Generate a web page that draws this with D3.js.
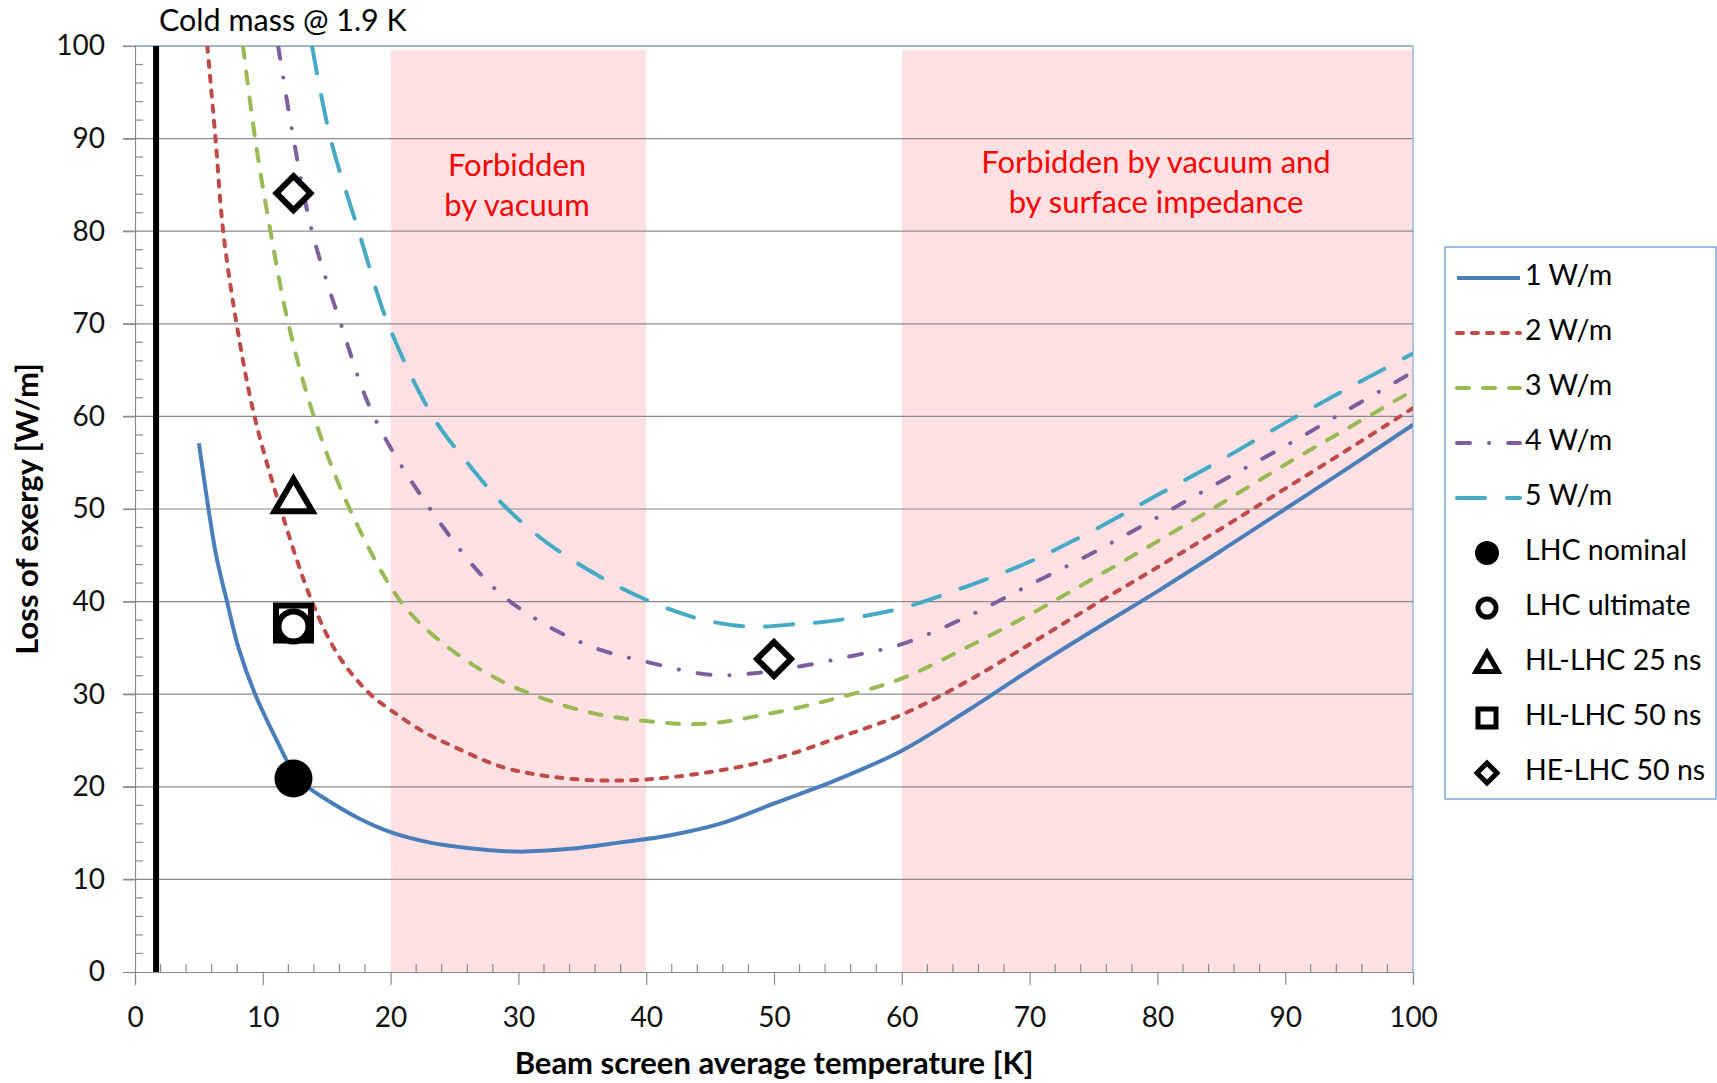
<!DOCTYPE html>
<html>
<head>
<meta charset="utf-8">
<script src="https://cdn.jsdelivr.net/npm/d3@7/dist/d3.min.js"></script>
<style>
  body { margin: 0; background: #fff; }
  svg { display: block; font-family: Lato, "Open Sans", sans-serif; }
</style>
</head>
<body>
<svg></svg>
<script>
// loss of exergy vs beam screen temperature, one curve per heat load

var xTicks = [0, 10, 20, 30, 40, 50, 60, 70, 80, 90, 100];
var yTicks = [0, 10, 20, 30, 40, 50, 60, 70, 80, 90, 100];

// [temperature K, loss W/m]
var load1 = [[5, 57.1], [5.75, 50], [6.35, 45], [7.2, 40], [8.1, 35], [9.4, 30], [11.1, 25], [12.4, 21.6],
  [13.5, 20], [15, 18.6], [17.5, 16.6], [20, 15.1], [23, 14.0], [26, 13.4], [30, 13.0], [34, 13.3],
  [38, 14.0], [42, 14.8], [46, 16.1], [50, 18.2], [55, 20.8], [60, 23.9], [65, 28.1], [70, 32.6],
  [75, 36.9], [80, 41.1], [85, 45.5], [90, 50.0], [95, 54.5], [100, 59.1]];
var load2 = [[5.66, 100], [6.3, 90], [6.9, 80], [7.95, 70], [9.35, 60], [11.4, 50], [13.85, 40], [16, 34],
  [18.4, 30], [20, 28.3], [22.5, 26], [25, 24.3], [28.6, 22.2], [32, 21.2], [36, 20.7], [40, 20.8],
  [45, 21.6], [50, 23.0], [55, 25.3], [60, 27.8], [65, 31.3], [70, 35.4], [75, 39.6], [80, 43.7],
  [85, 47.9], [90, 52.2], [95, 56.5], [100, 60.9]];
var load3 = [[8.45, 100], [9.4, 90], [10.6, 80], [12.0, 70], [14.0, 60], [16.8, 50], [20.8, 40], [24, 35.6],
  [28, 31.9], [32, 29.5], [36, 27.9], [40, 27.1], [44.5, 26.8], [50, 28.0], [55, 29.6], [60, 31.7],
  [65, 35.0], [70, 38.6], [75, 42.5], [80, 46.5], [85, 50.6], [90, 54.8], [95, 58.8], [100, 62.8]];
var load4 = [[11.2, 100], [12.4, 90], [13.85, 80], [16.1, 70], [18.7, 60], [23.1, 50], [28, 41.6], [32, 37.6],
  [36, 35.0], [40, 33.5], [45, 32.1], [48, 32.2], [52, 33.0], [56, 34.1], [60, 35.4], [65, 38.3],
  [70, 41.8], [75, 45.3], [80, 49.1], [85, 53.0], [90, 56.8], [95, 60.8], [100, 64.8]];
var load5 = [[13.85, 100], [15.3, 90], [17.5, 80], [19.8, 70], [23.3, 60], [26, 55], [29, 50.2], [32, 46.6],
  [36, 43.0], [40, 40.2], [44, 38.2], [48, 37.3], [52, 37.6], [55, 38.0], [60, 39.3], [65, 41.6],
  [70, 44.3], [75, 47.7], [80, 51.5], [85, 55.3], [90, 59.3], [95, 63.1], [100, 66.8]];

var seriesNames = ['1 W/m', '2 W/m', '3 W/m', '4 W/m', '5 W/m'];
var seriesData = [load1, load2, load3, load4, load5];

var scenarioNames = ['LHC nominal', 'LHC ultimate', 'HL-LHC 25 ns', 'HL-LHC 50 ns', 'HE-LHC 50 ns'];
// drawn in this order so the ultimate circle sits on top of the 50 ns square
var scenarioKind = [0, 3, 1, 2, 4, 4];
var scenarioT = [12.4, 12.4, 12.4, 12.4, 12.4, 50];
var scenarioLoss = [20.9, 37.7, 37.3, 51.3, 84.1, 33.8];

var coldMassT = 1.65;
var forbiddenBands = [[20, 40], [60, 100]];

document.addEventListener('DOMContentLoaded', function() {

  var width = 1717;
  var height = 1083;
  var svg = d3.select('svg')
                .attr('width', width)
                .attr('height', height);

  var x = d3.scaleLinear().domain([0, 100]).range([135, 1413]);
  var y = d3.scaleLinear().domain([0, 100]).range([972, 46]);

  var colors = ['#4a7ebb', '#be4b48', '#98b954', '#7d5fa0', '#46aac5'];
  var dashes = [null, '6,9', '12,14', '13,19,0.1,19', '28,22'];
  var gridColor = '#8a8a8a';

  // pink zones
  svg.append('g')
    .selectAll('rect')
    .data(forbiddenBands)
    .enter()
    .append('rect')
      .attr('x', d => x(d[0]))
      .attr('width', d => x(d[1]) - x(d[0]))
      .attr('y', y(99.6))
      .attr('height', y(0) - y(99.6))
      .attr('fill', '#ffe1e3');

  // gridlines
  svg.append('g')
    .selectAll('line')
    .data(yTicks.slice(1))
    .enter()
    .append('line')
      .attr('x1', x(0) - 12)
      .attr('x2', x(100))
      .attr('y1', d => y(d))
      .attr('y2', d => y(d))
      .attr('stroke', gridColor)
      .attr('stroke-width', 1.2);

  // plot border (top, right)
  svg.append('path')
    .attr('d', `M${x(0)},${y(100)}H${x(100)}V${y(0)}`)
    .attr('fill', 'none')
    .attr('stroke', '#7fa6d8')
    .attr('stroke-width', 1.2);

  // y axis: major ticks out, minor ticks in
  var yAxis = svg.append('g')
      .attr('transform', `translate(${x(0)},0)`)
      .call(d3.axisLeft(y).tickValues(yTicks).tickSize(12).tickPadding(18).tickFormat(d3.format('d')));
  var yMinor = d3.range(2, 100, 2).filter(d => d % 10 !== 0);
  yAxis.selectAll('.minor')
    .data(yMinor)
    .enter()
    .append('line')
      .attr('class', 'minor')
      .attr('x1', 0).attr('x2', 8)
      .attr('y1', d => y(d)).attr('y2', d => y(d));

  var xAxis = svg.append('g')
      .attr('transform', `translate(0,${y(0)})`)
      .call(d3.axisBottom(x).tickValues(xTicks).tickSize(13).tickPadding(22).tickFormat(d3.format('d')));
  var xMinor = d3.range(2, 100, 2).filter(d => d % 10 !== 0);
  xAxis.selectAll('.minor')
    .data(xMinor)
    .enter()
    .append('line')
      .attr('class', 'minor')
      .attr('y1', 0).attr('y2', -8)
      .attr('x1', d => x(d)).attr('x2', d => x(d));

  svg.selectAll('.domain, .tick line, .minor')
      .attr('stroke', gridColor)
      .attr('stroke-width', 1.2);
  svg.selectAll('.tick text')
      .attr('font-size', 28)
      .attr('font-family', 'Lato')
      .attr('fill', '#111');

  // axis titles
  svg.append('text')
      .attr('x', x(50))
      .attr('y', 1066)
      .attr('text-anchor', 'middle')
      .attr('dominant-baseline', 'middle')
      .attr('font-size', 31)
      .attr('font-weight', 'bold')
      .text('Beam screen average temperature [K]');
  svg.append('text')
      .attr('transform', `translate(30,${y(50)}) rotate(-90)`)
      .attr('text-anchor', 'middle')
      .attr('dominant-baseline', 'middle')
      .attr('font-size', 31)
      .attr('font-weight', 'bold')
      .text('Loss of exergy [W/m]');

  // cold mass line
  svg.append('line')
      .attr('x1', x(coldMassT)).attr('x2', x(coldMassT))
      .attr('y1', y(0)).attr('y2', y(100))
      .attr('stroke', '#000')
      .attr('stroke-width', 6);
  svg.append('text')
      .attr('x', 159)
      .attr('y', 23)
      .attr('dominant-baseline', 'middle')
      .attr('font-size', 30.5)
      .text('Cold mass @ 1.9 K');

  // curves
  svg.append('clipPath').attr('id', 'plotclip')
    .append('rect')
      .attr('x', x(0)).attr('y', y(100))
      .attr('width', x(100) - x(0)).attr('height', y(0) - y(100));

  var line = d3.line()
      .x(d => x(d[0]))
      .y(d => y(d[1]))
      .curve(d3.curveCatmullRom.alpha(0.5));

  svg.append('g')
      .attr('clip-path', 'url(#plotclip)')
    .selectAll('path')
    .data(seriesData)
    .enter()
    .append('path')
      .attr('d', line)
      .attr('fill', 'none')
      .attr('stroke', (d, i) => colors[i])
      .attr('stroke-width', 4)
      .attr('stroke-linecap', (d, i) => i === 0 ? 'butt' : 'round')
      .attr('stroke-dasharray', (d, i) => dashes[i]);

  // scenario markers: 0 dot, 1 ring, 2 triangle, 3 square, 4 diamond
  function marker(kind, s) {
    var h = s / 2;
    if (kind === 0 || kind === 1) return d3.symbol().type(d3.symbolCircle).size(Math.PI * h * h)();
    if (kind === 2) return `M0,${-h}L${h * 1.05},${h * 0.8}L${-h * 1.05},${h * 0.8}Z`;
    if (kind === 3) return `M${-h},${-h}H${h}V${h}H${-h}Z`;
    return `M0,${-h}L${h},0L0,${h}L${-h},0Z`;
  }
  function drawMarker(sel, kind, s, sw) {
    sel.attr('d', marker(kind, s))
      .attr('fill', kind === 0 ? '#000' : '#fff')
      .attr('stroke', '#000')
      .attr('stroke-width', kind === 0 ? 0 : sw)
      .attr('stroke-linejoin', 'miter');
  }
  var sizes = [38, 30, 36, 35, 34];
  scenarioT.forEach(function(t, i) {
    var k = scenarioKind[i];
    svg.append('path')
        .attr('transform', `translate(${x(t)},${y(scenarioLoss[i])})`)
        .call(drawMarker, k, sizes[k], 6);
  });

  // forbidden labels
  var notes = [
    { cx: 517, lines: ['Forbidden', 'by vacuum'], top: 168 },
    { cx: 1156, lines: ['Forbidden by vacuum and', 'by surface impedance'], top: 165 }
  ];
  notes.forEach(function(n) {
    n.lines.forEach(function(t, j) {
      svg.append('text')
          .attr('x', n.cx)
          .attr('y', n.top + j * 40)
          .attr('text-anchor', 'middle')
          .attr('dominant-baseline', 'middle')
          .attr('font-size', 31)
          .attr('fill', '#ff0000')
          .text(t);
    });
  });

  // legend
  var legend = svg.append('g');
  legend.append('rect')
      .attr('x', 1445).attr('y', 247)
      .attr('width', 271).attr('height', 552)
      .attr('fill', '#fff')
      .attr('stroke', '#7fa6d8')
      .attr('stroke-width', 1.5);
  var rowY = d3.scaleLinear().domain([0, 9]).range([278, 773]);
  var legendItems = seriesNames.concat(scenarioNames);
  var legendSize = [24, 18, 21, 18, 20];
  legendItems.forEach(function(name, i) {
    var yy = rowY(i);
    if (i < 5) {
      legend.append('line')
          .attr('x1', 1457).attr('x2', 1520)
          .attr('y1', yy).attr('y2', yy)
          .attr('stroke', colors[i])
          .attr('stroke-width', 4)
          .attr('stroke-linecap', i === 0 ? 'butt' : 'round')
          .attr('stroke-dasharray', dashes[i]);
    } else {
      var k = i - 5;
      legend.append('path')
          .attr('transform', `translate(1487,${yy})`)
          .call(drawMarker, k, legendSize[k], 5);
    }
    legend.append('text')
        .attr('x', 1525)
        .attr('y', yy)
        .attr('dominant-baseline', 'middle')
        .attr('font-size', 28.5)
        .text(name);
  });

});
</script>
</body>
</html>
